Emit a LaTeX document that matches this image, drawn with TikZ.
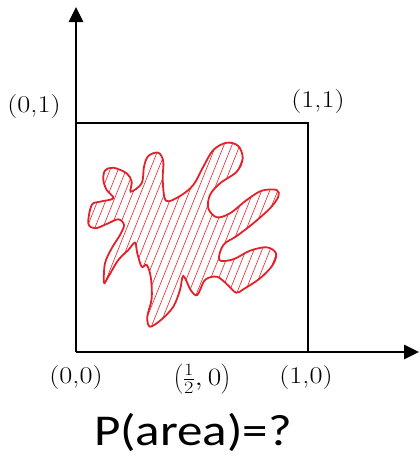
\documentclass[tikz,border=0pt]{standalone}
\usepackage{fontspec}
\newfontfamily\calib{Carlito}
\usetikzlibrary{arrows.meta}
\definecolor{blobred}{RGB}{228,32,40}
\tikzset{
  axis/.style={line width=2.6pt,-{Triangle[length=15pt,width=14pt]}},
  sq/.style={line width=1.1pt},
  lab/.style={inner sep=0pt,font=\fontsize{24}{28}\selectfont},
  blobline/.style={draw=blobred,line width=1.8pt},
  hatch/.style={draw=blobred,line width=0.6pt},
}
\newcommand{\wide}[2]{\scalebox{#1}[1]{#2}}
\def\blobpath{plot[smooth cycle,tension=0.55] coordinates {
(88.3,223.3) (91.7,205) (100,201.7) (113.3,198.3) (106.7,190) (103.3,180) (105,170.7)
(113.3,167.7) (126.7,173.3) (131.7,181.7) (130.7,191.7) (141.7,183.3) (144,166.7)
(148.3,156) (158.3,152.7) (163.3,161.7) (162.7,180) (166,200.7) (180,196) (193.3,185)
(203.3,166.7) (213.3,150) (226.7,142.7) (238.3,146) (242.7,158.3) (236.7,171.7)
(220,183.3) (210,195) (208.3,208.3) (216.7,217.3) (230,213.3) (246.7,200) (261.7,190.7)
(276.7,190) (278.3,196.7) (270,208.3) (253.3,223.3) (236.7,236) (223.3,245) (219.3,260)
(233.3,259.3) (250,250.7) (266.7,247.3) (276,253.3) (272.7,265) (260,278.3) (243.3,289.3)
(236,292.7) (226.7,284) (216.7,276.7) (205,280) (197.3,295) (190.7,290) (183.3,276)
(180,290) (173.3,306.7) (161.7,319.3) (150,326.7) (147.3,316.7) (151.7,298.3) (150.7,276.7)
(146.7,265) (141.7,266.7) (137.3,253.3) (135,242.7) (128.3,250) (118.3,260) (108.3,276.7)
(104,282.7) (105,263.3) (111.7,248.3) (120,235) (124,225) (118.3,219.3) (106.7,224) (95,228.3)
}}
\begin{document}
\begin{tikzpicture}[x=1pt,y=-1pt]
\useasboundingbox (0,0) rectangle (420,455);
\coordinate (O) at (76,352);
\coordinate (Ytip) at (76,7);
\coordinate (Xtip) at (419,352);
\coordinate (TL) at (76,123);
\coordinate (TR) at (308,123);
\coordinate (BR) at (308,352);
% square
\draw[sq] (TL) -- (TR) -- (BR);
% axes
\draw[axis] (O) -- (Ytip);
\draw[axis] (O) -- (Xtip);
% blob hatching
\begin{scope}
  \clip \blobpath;
  \foreach \k in {0,...,38} {
    \draw[hatch] ({2+8*\k},340) -- ++(82,-205);
  }
\end{scope}
\draw[blobline] \blobpath;
% labels
\node[lab] (l01) at (34,107) {\wide{1.18}{(0,1)}};
\node[lab] (l11) at (318,102) {\wide{1.18}{(1,1)}};
\node[lab] (l00) at (76,378) {\wide{1.18}{(0,0)}};
\node[lab] (lh0) at (202,379) {\wide{1.18}{$\left(\frac{1}{2},0\right)$}};
\node[lab] (l10) at (306,378) {\wide{1.18}{(1,0)}};
\node[inner sep=0pt,font=\calib\fontsize{44}{50}\selectfont] (pa) at (193,432) {\wide{1.16}{P(area)=?}};
\end{tikzpicture}
\end{document}
